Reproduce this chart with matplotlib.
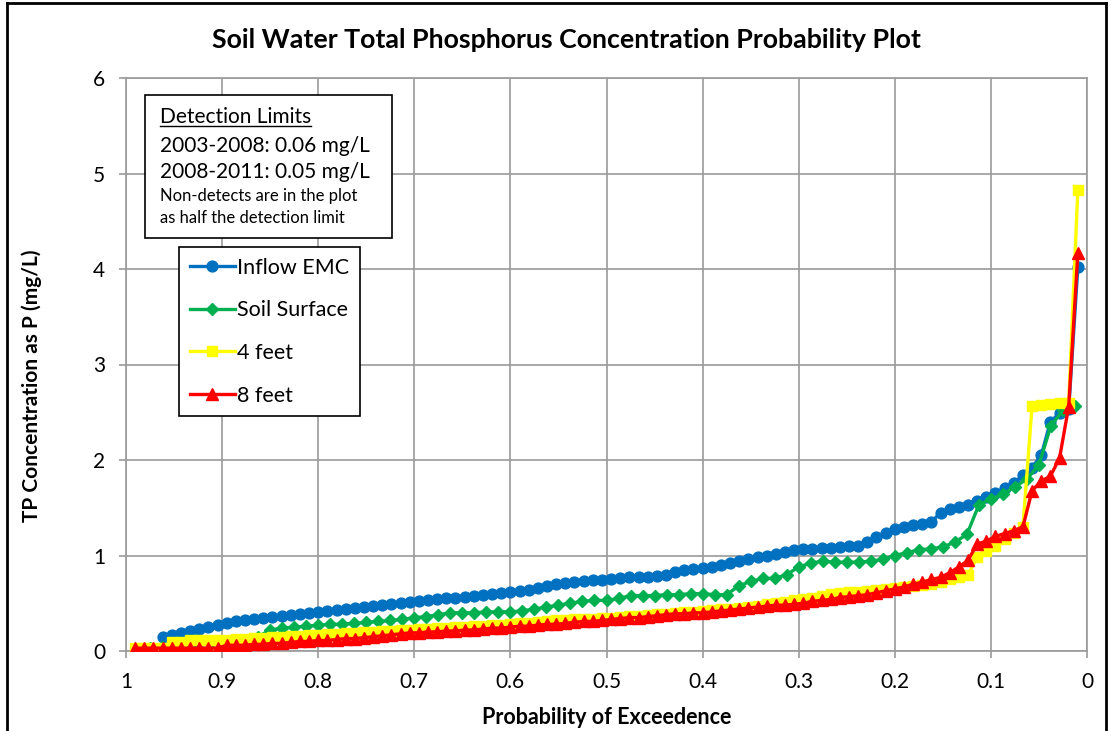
import matplotlib.pyplot as plt
import numpy as np
from matplotlib.lines import Line2D
from matplotlib.patches import Rectangle

plt.rcParams["font.family"] = ["Lato", "DejaVu Sans"]

# samples per record (plotting positions use the full count)
N_SAMPLES = 104
N_SOIL_SURFACE = 79

# concentrations (mg/L as P), ordered low to high; non-detects at half the DL
inflow_emc = [
    0.15, 0.17, 0.19, 0.21, 0.23, 0.25, 0.27, 0.29, 0.31, 0.32,
    0.34, 0.35, 0.36, 0.37, 0.38, 0.39, 0.40, 0.41, 0.42, 0.43,
    0.44, 0.45, 0.46, 0.47, 0.48, 0.49, 0.50, 0.51, 0.52, 0.53,
    0.54, 0.55, 0.56, 0.57, 0.58, 0.59, 0.60, 0.61, 0.62, 0.63,
    0.64, 0.66, 0.68, 0.70, 0.71, 0.72, 0.73, 0.74, 0.74, 0.75,
    0.76, 0.77, 0.77, 0.78, 0.79, 0.80, 0.83, 0.85, 0.86, 0.87,
    0.88, 0.90, 0.92, 0.94, 0.96, 0.98, 1.00, 1.02, 1.04, 1.06,
    1.07, 1.07, 1.08, 1.08, 1.09, 1.10, 1.10, 1.14, 1.19, 1.24,
    1.28, 1.30, 1.32, 1.33, 1.35, 1.45, 1.49, 1.51, 1.53, 1.57,
    1.61, 1.65, 1.71, 1.76, 1.84, 1.92, 2.05, 2.40, 2.49, 2.53,
    4.02,
]
soil_surface = [
    0.03, 0.04, 0.05, 0.06, 0.07, 0.08, 0.09, 0.10, 0.12, 0.15,
    0.22, 0.24, 0.25, 0.26, 0.27, 0.28, 0.28, 0.29, 0.30, 0.31,
    0.32, 0.33, 0.35, 0.36, 0.38, 0.40, 0.40, 0.40, 0.41, 0.41,
    0.41, 0.42, 0.44, 0.46, 0.48, 0.50, 0.52, 0.53, 0.53, 0.55,
    0.58, 0.58, 0.58, 0.59, 0.59, 0.60, 0.60, 0.59, 0.59, 0.68,
    0.73, 0.76, 0.76, 0.80, 0.88, 0.92, 0.94, 0.93, 0.93, 0.93,
    0.94, 0.96, 1.00, 1.03, 1.06, 1.07, 1.09, 1.14, 1.22, 1.53,
    1.59, 1.64, 1.72, 1.80, 1.95, 2.36, 2.52, 2.57,
]
depth_4ft = [
    0.03, 0.03, 0.03, 0.03, 0.09, 0.09, 0.11, 0.11, 0.11, 0.12,
    0.12, 0.13, 0.13, 0.14, 0.14, 0.15, 0.15, 0.16, 0.16, 0.17,
    0.17, 0.18, 0.18, 0.19, 0.19, 0.20, 0.20, 0.21, 0.21, 0.22,
    0.22, 0.23, 0.23, 0.24, 0.24, 0.25, 0.25, 0.26, 0.26, 0.27,
    0.27, 0.28, 0.29, 0.29, 0.30, 0.31, 0.32, 0.32, 0.33, 0.34,
    0.34, 0.35, 0.35, 0.36, 0.37, 0.37, 0.38, 0.39, 0.39, 0.40,
    0.41, 0.41, 0.42, 0.43, 0.44, 0.44, 0.45, 0.46, 0.47, 0.49,
    0.50, 0.51, 0.53, 0.54, 0.56, 0.58, 0.60, 0.61, 0.62, 0.62,
    0.63, 0.64, 0.65, 0.66, 0.67, 0.68, 0.69, 0.70, 0.72, 0.75,
    0.78, 0.80, 0.98, 1.05, 1.10, 1.17, 1.24, 1.30, 2.57, 2.58,
    2.59, 2.60, 2.60, 4.83,
]
depth_8ft = [
    0.03, 0.03, 0.03, 0.03, 0.03, 0.03, 0.03, 0.03, 0.03, 0.03,
    0.06, 0.06, 0.06, 0.07, 0.07, 0.08, 0.08, 0.09, 0.10, 0.10,
    0.11, 0.11, 0.12, 0.13, 0.13, 0.14, 0.15, 0.16, 0.17, 0.18,
    0.19, 0.19, 0.20, 0.20, 0.21, 0.21, 0.22, 0.22, 0.23, 0.24,
    0.24, 0.25, 0.26, 0.26, 0.27, 0.28, 0.28, 0.29, 0.30, 0.31,
    0.31, 0.32, 0.33, 0.34, 0.35, 0.35, 0.36, 0.37, 0.38, 0.39,
    0.39, 0.40, 0.40, 0.41, 0.42, 0.43, 0.44, 0.45, 0.46, 0.47,
    0.48, 0.48, 0.49, 0.50, 0.52, 0.53, 0.54, 0.56, 0.57, 0.58,
    0.59, 0.61, 0.63, 0.65, 0.67, 0.70, 0.72, 0.75, 0.77, 0.82,
    0.88, 0.95, 1.12, 1.15, 1.20, 1.23, 1.26, 1.30, 1.68, 1.78,
    1.83, 2.02, 2.56, 4.17,
]

x_ticks = [1, 0.9, 0.8, 0.7, 0.6, 0.5, 0.4, 0.3, 0.2, 0.1, 0]
x_tick_labels = ["1", "0.9", "0.8", "0.7", "0.6", "0.5", "0.4", "0.3", "0.2", "0.1", "0"]
y_ticks = [0, 1, 2, 3, 4, 5, 6]


def exceedance(values, n_total):
    # Weibull plotting position; values are the top ranks of n_total samples
    k = np.arange(n_total - len(values) + 1, n_total + 1)
    return (n_total + 1 - k) / (n_total + 1)


W, H = 1111, 731


def fx(px):
    return px / W


def fy(py):
    return 1 - py / H


fig = plt.figure(figsize=(W / 100, H / 100), dpi=100)
ax = fig.add_axes([fx(126), fy(651), fx(1087) - fx(126), fy(78) - fy(651)])

grid_c = "#9a9a9a"
series = [
    (inflow_emc, N_SAMPLES, "Inflow EMC", "#0070C0", "o", 7.8),
    (soil_surface, N_SOIL_SURFACE, "Soil Surface", "#00B050", "D", 6.2),
    (depth_4ft, N_SAMPLES, "4 feet", "#FFFF00", "s", 7.2),
    (depth_8ft, N_SAMPLES, "8 feet", "#FF0000", "^", 8.2),
]
for vals, n, label, color, marker, ms in series:
    ax.plot(exceedance(vals, n), vals, color=color, lw=2.4, marker=marker,
            ms=ms, mec=color, mfc=color, label=label, zorder=3)

ax.set_xlim(1, 0)
ax.set_ylim(0, 6)
ax.set_xticks(x_ticks)
ax.set_xticklabels(x_tick_labels)
ax.set_yticks(y_ticks)
ax.grid(True, color=grid_c, lw=1.2)
ax.set_axisbelow(True)
for s in ax.spines.values():
    s.set_color(grid_c)
    s.set_linewidth(1.2)
ax.tick_params(labelsize=15, length=5, width=1.2, color=grid_c, pad=10)

fig.text(fx(566), fy(40), "Soil Water Total Phosphorus Concentration Probability Plot",
         ha="center", va="center", fontsize=19.3, weight="bold")
fig.text(fx(607), fy(718), "Probability of Exceedence", ha="center", va="center",
         fontsize=15.5, weight="bold")
fig.text(fx(32), fy(386), "TP Concentration as P (mg/L)", ha="center", va="center",
         fontsize=15, weight="bold", rotation=90)

# detection limit note box
fig.add_artist(Rectangle((fx(145), fy(238)), fx(392) - fx(145), fy(95) - fy(238),
                         transform=fig.transFigure, fc="white", ec="black", lw=1.2, zorder=5))
note_head = fig.text(fx(160), fy(117), "Detection Limits", ha="left", va="center",
                     fontsize=15, zorder=6)
fig.text(fx(160), fy(146), "2003-2008: 0.06 mg/L", ha="left", va="center", fontsize=15, zorder=6)
fig.text(fx(160), fy(172), "2008-2011: 0.05 mg/L", ha="left", va="center", fontsize=15, zorder=6)
fig.text(fx(160), fy(196), "Non-detects are in the plot", ha="left", va="center",
         fontsize=12, zorder=6)
fig.text(fx(160), fy(218), "as half the detection limit", ha="left", va="center",
         fontsize=12, zorder=6)

fig.canvas.draw()
bb = note_head.get_window_extent().transformed(fig.transFigure.inverted())
fig.add_artist(Line2D([bb.x0, bb.x1], [bb.y0 + 0.002, bb.y0 + 0.002],
                      transform=fig.transFigure, color="black", lw=1, zorder=6))

leg = ax.legend(loc="upper left", bbox_to_anchor=((179 - 126) / 961, (651 - 247) / 573),
                borderaxespad=0, fontsize=15.5, frameon=True, fancybox=False,
                edgecolor="black", framealpha=1, handlelength=2.1, handletextpad=0.1,
                labelspacing=1.05, borderpad=0.5, numpoints=1)
leg.get_frame().set_linewidth(1.2)

# outer chart frame
for xs, ys in [([fx(7), fx(7)], [0, fy(3)]), ([fx(7), fx(1106)], [fy(3), fy(3)]),
               ([fx(1106), fx(1106)], [fy(3), 0])]:
    fig.add_artist(Line2D(xs, ys, transform=fig.transFigure, color="black", lw=2))

fig.savefig("out.png", dpi=100)
